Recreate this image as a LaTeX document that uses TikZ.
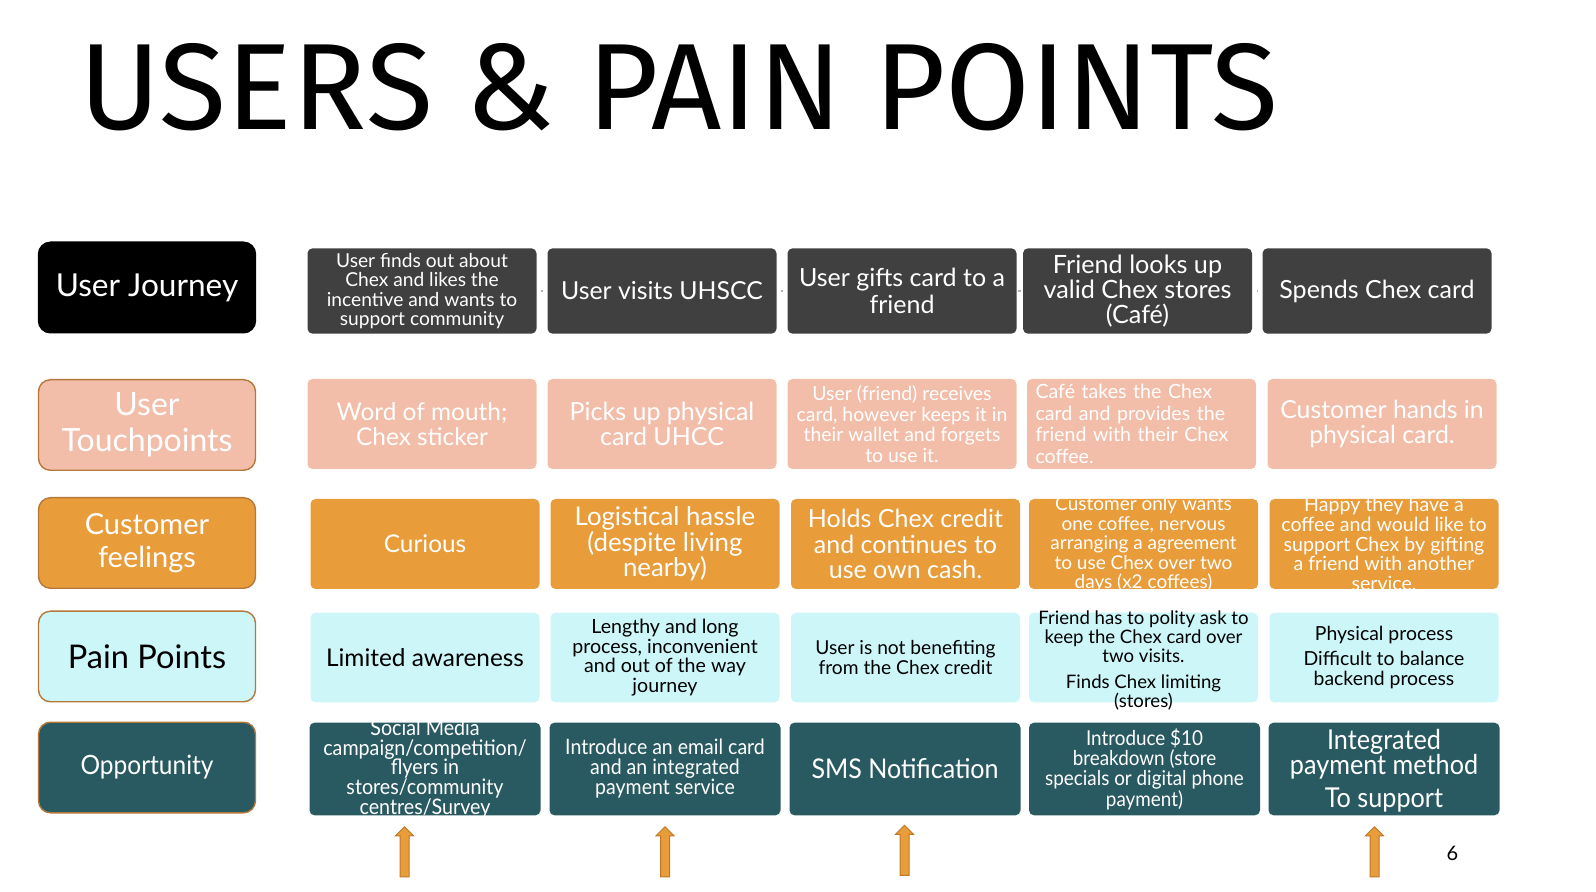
\documentclass[tikz,border=0pt]{standalone}
\usepackage{fontspec}
\setmainfont{Lato}
\newfontfamily\titlefont{Fira Sans}
\newfontfamily\condfont[FakeStretch=0.92]{Lato}
\usetikzlibrary{shapes.arrows}

\definecolor{journeygray}{HTML}{404040}
\definecolor{touchpink}{HTML}{F3BEA9}
\definecolor{feelorange}{HTML}{E89C3A}
\definecolor{paincyan}{HTML}{CCF6F8}
\definecolor{oppteal}{HTML}{2A5A61}
\definecolor{headbrown}{HTML}{B5783A}
\definecolor{arrowedge}{HTML}{C07828}

\newcommand{\sz}[2]{\fontsize{#1}{#2}\selectfont}
% text that may run past the box edge without growing the box
\newcommand{\spill}[2][-0.25em]{\smash{\makebox[0pt]{\raisebox{#1}{\parbox{118pt}{\centering
  \lineskiplimit=-20pt #2}}}}}

\tikzset{
  rowhead/.style={rounded corners=6pt, minimum width=108.5pt, minimum height=45.3pt,
    draw=headbrown, line width=0.7pt, align=center, inner sep=1pt},
  cell/.style={rounded corners=2.5pt, minimum width=114.5pt, minimum height=45pt,
    align=center, inner sep=1pt, text=white},
  journey/.style={cell, fill=journeygray, minimum height=42.7pt},
  touch/.style={cell, fill=touchpink},
  feel/.style={cell, fill=feelorange},
  pain/.style={cell, fill=paincyan, text=black, minimum height=44.8pt},
  opp/.style={cell, fill=oppteal, minimum width=115.5pt, minimum height=46.3pt},
  conn/.style={draw=gray!60, line width=1.4pt, shorten <=2.2pt, shorten >=2.2pt},
  uparrow/.style={single arrow, shape border rotate=90, fill=feelorange, draw=arrowedge,
    line width=0.5pt, inner sep=2pt, minimum height=25pt,
    single arrow head extend=2.25pt}
}

\begin{document}
\begin{tikzpicture}[x=0.5pt,y=-0.5pt]
  \useasboundingbox (0,0) rectangle (1596,892);

  \node[anchor=base west, inner sep=0, font=\titlefont\sz{61.4}{61}] (title)
    at (79,130) {USERS \& PAIN POINTS};

  % row heads
  \node[rowhead, fill=black, draw=black, text=white, font=\sz{15.8}{17}] (lj)
    at (147,287.5) {User Journey};
  \node[rowhead, fill=touchpink, text=white, font=\sz{16}{18.2}] (lt)
    at (147,425) {User\\Touchpoints};
  \node[rowhead, fill=feelorange, text=white, font=\sz{14.5}{16.3}] (lf)
    at (147,543) {Customer\\feelings};
  \node[rowhead, fill=paincyan, text=black, font=\sz{16.3}{17}] (lp)
    at (147,656.5) {Pain Points};
  \node[rowhead, fill=oppteal, text=white, font=\condfont\sz{13.3}{15}] (lo)
    at (147,767.5) {Opportunity};

  % user journey
  \node[journey, font=\sz{9.6}{9.8}] (j1) at (422,291)
    {User finds out about\\Chex and likes the\\incentive and wants to\\support community};
  \node[journey, font=\sz{12.4}{13.7}] (j2) at (662,291) {User visits UHSCC};
  \node[journey, font=\sz{12.5}{13.2}] (j3) at (902,291) {User gifts card to a\\friend};
  \node[journey, font=\sz{12.6}{12.7}] (j4) at (1137.5,291)
    {Friend looks up\\valid Chex stores\\(Café)};
  \node[journey, font=\sz{12.5}{13.7}] (j5) at (1377,291) {Spends Chex card};

  \draw[conn] (j1) -- (j2);
  \draw[conn] (j2) -- (j3);
  \draw[conn] (j3) -- (j4);
  \draw[conn] (j4) -- (j5);

  % touchpoints
  \node[touch, font=\sz{12.2}{12.7}] (t1) at (422,424) {Word of mouth;\\Chex sticker};
  \node[touch, font=\sz{12.5}{12.7}] (t2) at (662,424) {Picks up physical\\card UHCC};
  \node[touch, font=\sz{9.7}{10.2}] (t3) at (902,424)
    {User (friend) receives\\card, however keeps it in\\their wallet and forgets\\to use it.};
  \node[touch, font=\sz{9.8}{10.85}, align=left, text width=106pt] (t4) at (1141.5,424)
    {Café takes the Chex\\card and provides the\\friend with their Chex\\coffee.};
  \node[touch, font=\sz{12.4}{12.7}] (t5) at (1382,424) {Customer hands in\\physical card.};

  % feelings
  \node[feel, font=\sz{12.2}{13}] (f1) at (425,544) {Curious};
  \node[feel, font=\sz{12.9}{12.7}] (f2) at (665,544)
    {Logistical hassle\\(despite living\\nearby)};
  \node[feel, font=\sz{12.5}{12.7}] (f3) at (905.5,544)
    {Holds Chex credit\\and continues to\\use own cash.};
  \node[feel, font=\sz{9.5}{9.8}] (f4) at (1143.5,544)
    {\spill{Customer only wants\\one coffee, nervous\\arranging a agreement\\to use Chex over two\\days (x2 coffees)}};
  \node[feel, font=\sz{9.8}{9.8}] (f5) at (1384,544)
    {\spill{Happy they have a\\coffee and would like to\\support Chex by gifting\\a friend with another\\service.}};

  % pain points
  \node[pain, font=\sz{12.2}{13}] (p1) at (425,657.5) {Limited awareness};
  \node[pain, font=\sz{9.8}{9.9}] (p2) at (665,657.5)
    {Lengthy and long\\process, inconvenient\\and out of the way\\journey};
  \node[pain, font=\sz{9.6}{10}] (p3) at (905.5,657.5)
    {User is not benefiting\\from the Chex credit};
  \node[pain, font=\sz{9.3}{9.6}] (p4) at (1143.5,657.5)
    {\spill[-0.4em]{Friend has to polity ask to\\keep the Chex card over\\two visits.\\[3pt]Finds Chex limiting\\(stores)}};
  \node[pain, font=\sz{9.7}{10.2}] (p5) at (1384,657.5)
    {Physical process\\[2.5pt]Difficult to balance\\backend process};

  % opportunity
  \node[opp, font=\condfont\sz{10.7}{9.8}] (o1) at (425,769)
    {\spill{Social Media\\campaign/competition/\\flyers in\\stores/community\\centres/Survey}};
  \node[opp, font=\condfont\sz{10.6}{10}] (o2) at (665,769)
    {Introduce an email card\\and an integrated\\payment service};
  \node[opp, font=\condfont\sz{13.6}{14}] (o3) at (905,769) {SMS Notification};
  \node[opp, font=\condfont\sz{10.25}{10.2}] (o4) at (1144.5,769)
    {Introduce \$10\\breakdown (store\\specials or digital phone\\payment)};
  \node[opp, font=\condfont\sz{13.7}{12.2}] (o5) at (1384,769)
    {\spill[-0.33em]{Integrated\\payment method\\[4.5pt]To support}};

  % arrows under the opportunities
  \node[uparrow] (a1) at (404.5,854) {};
  \node[uparrow] (a2) at (665,854) {};
  \node[uparrow] (a3) at (904.5,852.5) {};
  \node[uparrow] (a4) at (1374.5,854) {};

  \node[font=\sz{10}{10}] (pagenum) at (1452.5,853) {6};
\end{tikzpicture}
\end{document}
